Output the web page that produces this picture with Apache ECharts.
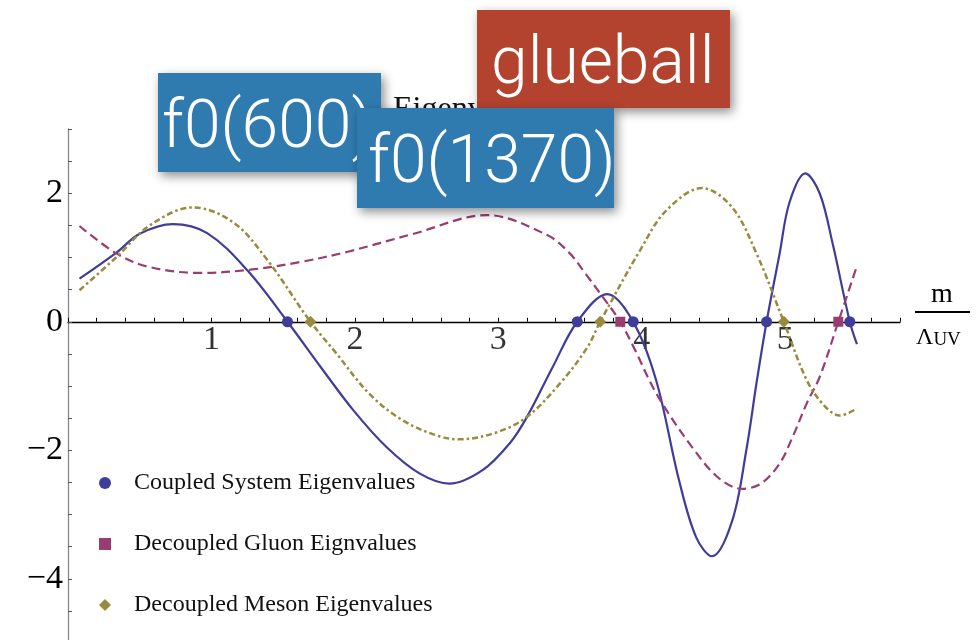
<!DOCTYPE html>
<html>
<head>
<meta charset="utf-8">
<script src="https://cdn.jsdelivr.net/npm/echarts@6/dist/echarts.min.js"></script>
<style>
  html, body { margin: 0; padding: 0; background: #ffffff; }
  #chart { width: 978px; height: 640px; }
</style>
</head>
<body>
<div id="chart"></div>
<script>
// Coupled system determinant vs m / Lambda_UV  ([x, y] samples)
const coupledCurve = [
  [0.08, 0.67], [0.34, 1.08], [0.50, 1.37], [0.73, 1.52], [0.97, 1.38],
  [1.25, 0.80], [1.53, 0], [1.76, -0.70], [1.99, -1.38], [2.22, -1.95],
  [2.45, -2.36], [2.66, -2.52], [2.89, -2.31], [3.08, -1.89], [3.20, -1.48],
  [3.38, -0.70], [3.55, 0], [3.76, 0.43], [3.94, 0], [4.10, -0.91],
  [4.26, -2.47], [4.38, -3.36], [4.49, -3.65], [4.63, -3.10], [4.73, -1.98],
  [4.80, -0.95], [4.87, 0], [4.96, 1.05], [5.03, 1.86], [5.14, 2.31],
  [5.24, 2.00], [5.33, 1.22], [5.45, 0], [5.50, -0.35]
];

// Decoupled gluon sector
const gluonCurve = [
  [0.08, 1.49], [0.34, 1.06], [0.57, 0.85], [0.92, 0.76], [1.27, 0.81],
  [1.62, 0.93], [1.95, 1.09], [2.41, 1.37], [2.92, 1.66], [3.34, 1.35],
  [3.50, 1.06], [3.61, 0.74], [3.73, 0.38], [3.85, 0], [3.94, -0.38],
  [4.11, -1.15], [4.36, -1.98], [4.54, -2.44], [4.70, -2.60], [4.83, -2.52],
  [4.96, -2.21], [5.05, -1.80], [5.15, -1.27], [5.24, -0.86], [5.37, 0],
  [5.50, 0.87]
];

// Decoupled meson sector
const mesonCurve = [
  [0.08, 0.49], [0.34, 1.01], [0.57, 1.50], [0.87, 1.78], [1.15, 1.55],
  [1.39, 0.96], [1.69, 0], [1.87, -0.49], [2.10, -1.12], [2.33, -1.53],
  [2.57, -1.77], [2.73, -1.83], [2.99, -1.72], [3.20, -1.48], [3.43, -0.96],
  [3.62, -0.40], [3.71, 0], [3.99, 1.12], [4.17, 1.73], [4.42, 2.08],
  [4.63, 1.78], [4.80, 1.06], [4.99, 0], [5.15, -0.91], [5.27, -1.30],
  [5.38, -1.46], [5.50, -1.35]
];

// Roots (eigenvalues) of each system
const coupledZeros = [1.53, 3.55, 3.94, 4.87, 5.45];
const gluonZeros = [3.85, 5.37];
const mesonZeros = [1.69, 3.71, 4.99];

// Labelled ticks
const xLabelValues = [1, 2, 3, 4, 5];
const yLabelValues = [-4, -2, 0, 2];

const seriesNames = [
  'Coupled System Eigenvalues',
  'Decoupled Gluon Eignvalues',
  'Decoupled Meson Eigenvalues'
];

const BLUE = '#3f3d99';
const PURPLE = '#993d71';
const OLIVE = '#998b3d';
const SERIF = '"Liberation Serif", "DejaVu Serif", serif';
const SANS_LIGHT = 'Roboto, Lato, "Open Sans", sans-serif';
const BOX_BLUE = '#2f7bb0';
const BOX_RED = '#b3422f';
const CURVE_SMOOTH = 0.35;

function tickLabel(allowed, v) {
  const r = Math.round(v);
  if (Math.abs(v - r) > 1e-6 || allowed.indexOf(r) < 0) return '';
  return r < 0 ? '\u2212' + Math.abs(r) : String(r);
}

const onAxis = xs => xs.map(x => [x, 0]);

const chart = echarts.init(document.getElementById('chart'), null, { renderer: 'canvas' });

chart.setOption({
  animation: false,
  backgroundColor: '#ffffff',
  title: {
    text: 'Eigenvalues',
    left: 393,
    top: 94,
    padding: 0,
    textStyle: { fontFamily: SERIF, fontSize: 32, fontWeight: 'normal', color: '#111' }
  },
  grid: {
    left: 68, top: 129, width: 832, height: 514,
    containLabel: false, outerBoundsMode: 'none'
  },
  xAxis: {
    type: 'value',
    min: 0,
    max: 5.8,
    interval: 0.2,
    axisLine: { onZero: true, lineStyle: { color: '#000', width: 1.3 } },
    axisTick: { inside: true, length: 4, lineStyle: { color: '#000', width: 1 } },
    axisLabel: { show: false },
    splitLine: { show: false }
  },
  yAxis: {
    type: 'value',
    min: -5,
    max: 3,
    interval: 0.5,
    axisLine: { show: true, onZero: true, lineStyle: { color: '#888', width: 1.3 } },
    axisTick: { show: true, inside: true, length: 4, lineStyle: { color: '#555', width: 1 } },
    axisLabel: {
      margin: 5,
      fontFamily: SERIF,
      fontSize: 34,
      color: '#000',
      formatter: v => tickLabel(yLabelValues, v)
    },
    splitLine: { show: false }
  },
  legend: {
    orient: 'vertical',
    left: 99,
    top: 467,
    padding: 0,
    itemWidth: 12,
    itemHeight: 12,
    itemGap: 29,
    selectedMode: false,
    data: [
      { name: seriesNames[0], icon: 'circle' },
      { name: seriesNames[1], icon: 'rect' },
      { name: seriesNames[2], icon: 'diamond' }
    ],
    textStyle: {
      fontFamily: SERIF,
      fontSize: 24,
      color: '#111',
      lineHeight: 24,
      padding: [0, 0, 8, 18]
    }
  },
  series: [
    {
      type: 'line', data: coupledCurve, smooth: CURVE_SMOOTH, showSymbol: false, z: 2,
      lineStyle: { color: BLUE, width: 2.2 }
    },
    {
      type: 'line', data: gluonCurve, smooth: CURVE_SMOOTH, showSymbol: false, z: 2,
      lineStyle: { color: PURPLE, width: 2.2, type: [9, 5] }
    },
    {
      type: 'line', data: mesonCurve, smooth: CURVE_SMOOTH, showSymbol: false, z: 2,
      lineStyle: { color: OLIVE, width: 2.5, type: [6, 3, 2.5, 3] }
    },
    {
      name: seriesNames[0], type: 'scatter', data: onAxis(coupledZeros),
      symbol: 'circle', symbolSize: 11, z: 4, itemStyle: { color: BLUE, opacity: 1 }
    },
    {
      name: seriesNames[1], type: 'scatter', data: onAxis(gluonZeros),
      symbol: 'rect', symbolSize: 10, z: 4, itemStyle: { color: PURPLE, opacity: 1 }
    },
    {
      name: seriesNames[2], type: 'scatter', data: onAxis(mesonZeros),
      symbol: 'diamond', symbolSize: 12, z: 4, itemStyle: { color: OLIVE, opacity: 1 }
    },
    {
      // x tick labels sit just under the zero line
      type: 'scatter', data: onAxis(xLabelValues), symbolSize: 0, silent: true, z: 1,
      itemStyle: { color: 'transparent' },
      label: {
        show: true, position: 'bottom', distance: 1,
        fontFamily: SERIF, fontSize: 34, color: '#000',
        formatter: p => tickLabel(xLabelValues, p.value[0])
      }
    }
  ],
  graphic: [
    // axis name:  m / Lambda_UV
    {
      type: 'text', z: 50,
      style: { text: 'm', x: 942, y: 309, align: 'center', verticalAlign: 'bottom',
               fontFamily: SERIF, fontSize: 28, fill: '#000' }
    },
    {
      type: 'line', z: 50,
      shape: { x1: 915, y1: 312, x2: 970, y2: 312 },
      style: { stroke: '#000', lineWidth: 2 }
    },
    {
      type: 'text', z: 50,
      style: {
        text: '{a|\u039B}{b|UV}', x: 916, y: 350, verticalAlign: 'bottom',
        rich: {
          a: { fontFamily: SERIF, fontSize: 24, fill: '#000', verticalAlign: 'bottom' },
          b: { fontFamily: SERIF, fontSize: 19, fill: '#000', verticalAlign: 'bottom' }
        }
      }
    },
    // annotation tags
    {
      type: 'rect', z: 100,
      shape: { x: 158, y: 73, width: 223, height: 99 },
      style: { fill: BOX_BLUE, shadowBlur: 10, shadowOffsetX: 3, shadowOffsetY: 4, shadowColor: 'rgba(0,0,0,0.45)' }
    },
    {
      type: 'text', z: 101,
      style: { text: 'f0(600)', x: 162, y: 130, verticalAlign: 'middle',
               fontFamily: SANS_LIGHT, fontWeight: 300, fontSize: 66, fill: '#ffffff' }
    },
    {
      type: 'rect', z: 102,
      shape: { x: 477, y: 10, width: 253, height: 98 },
      style: { fill: BOX_RED, shadowBlur: 10, shadowOffsetX: 3, shadowOffsetY: 4, shadowColor: 'rgba(0,0,0,0.45)' }
    },
    {
      type: 'text', z: 103,
      style: { text: 'glueball', x: 491, y: 66, verticalAlign: 'middle',
               fontFamily: SANS_LIGHT, fontWeight: 300, fontSize: 66, fill: '#ffffff' }
    },
    {
      type: 'rect', z: 104,
      shape: { x: 357, y: 108, width: 257, height: 100 },
      style: { fill: BOX_BLUE, shadowBlur: 10, shadowOffsetX: 3, shadowOffsetY: 4, shadowColor: 'rgba(0,0,0,0.45)' }
    },
    {
      type: 'text', z: 105,
      style: { text: 'f0(1370)', x: 368, y: 165, verticalAlign: 'middle',
               fontFamily: SANS_LIGHT, fontWeight: 300, fontSize: 66, fill: '#ffffff' }
    }
  ]
});
</script>
</body>
</html>
